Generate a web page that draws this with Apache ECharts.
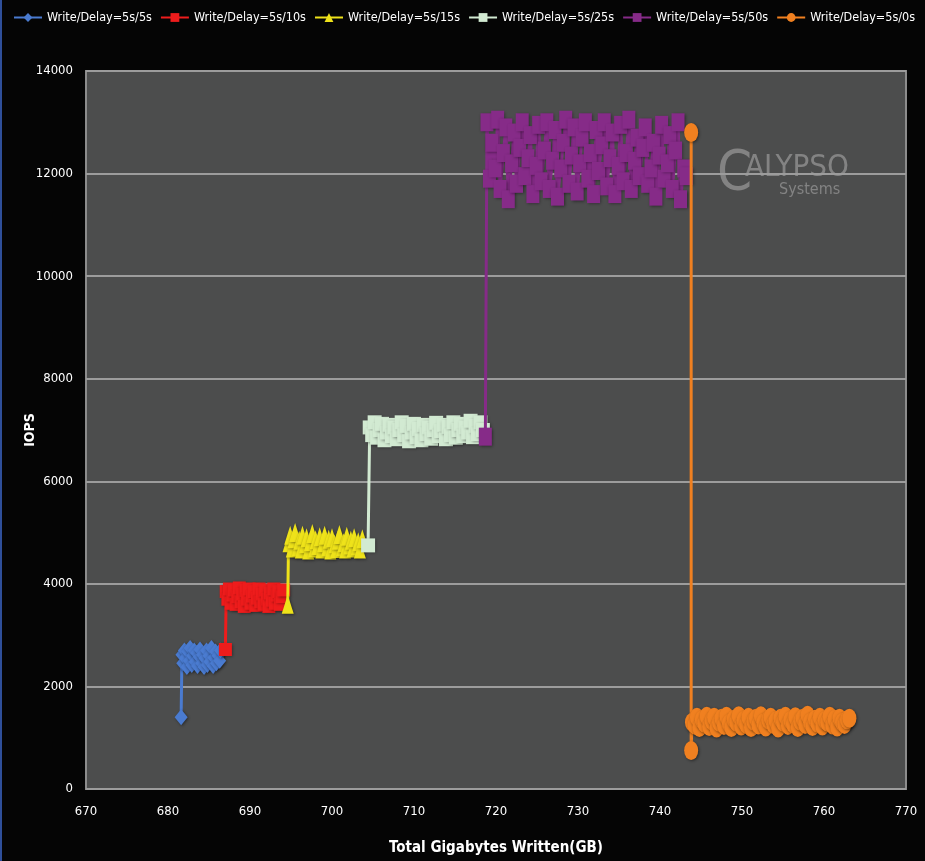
<!DOCTYPE html>
<html>
<head>
<meta charset="utf-8">
<script src="https://cdn.jsdelivr.net/npm/echarts@6/dist/echarts.min.js"></script>
<style>
html,body{margin:0;padding:0;background:#050505;}
#chart{width:925px;height:861px;}
</style>
</head>
<body>
<div id="chart"></div>
<script>
const seriesNames = ['Write/Delay=5s/5s','Write/Delay=5s/10s','Write/Delay=5s/15s','Write/Delay=5s/25s','Write/Delay=5s/50s','Write/Delay=5s/0s'];
const xTicks = [670,680,690,700,710,720,730,740,750,760,770];
const yTicks = [0,2000,4000,6000,8000,10000,12000,14000];

const blueX = [681.6,681.7,681.8,682.0,682.1,682.3,682.4,682.6,682.7,682.9,683.0,683.2,683.3,683.5,683.6,683.8,683.9,684.1,684.2,684.4,684.5,684.7,684.8,685.0,685.1,685.3,685.5,685.6,685.8,685.9,686.1,686.3,686.4];
const blueY = [1400,2620,2450,2700,2550,2380,2680,2500,2750,2420,2600,2700,2480,2650,2400,2580,2720,2450,2620,2380,2550,2700,2420,2600,2480,2750,2400,2560,2680,2450,2600,2500,2700];

const redX = [687.0,687.1,687.3,687.5,687.7,687.9,688.1,688.3,688.5,688.7,688.9,689.1,689.3,689.5,689.7,689.9,690.1,690.3,690.5,690.7,690.9,691.1,691.3,691.5,691.7,691.9,692.1,692.3,692.5,692.7,692.9,693.1,693.3,693.5,693.7,693.9,694.1];
const redY = [2720,3850,3700,3900,3620,3780,3880,3600,3750,3920,3650,3800,3560,3870,3700,3900,3620,3760,3850,3580,3720,3900,3650,3800,3600,3880,3700,3560,3820,3680,3900,3620,3780,3850,3600,3750,3880];

const yellowX = [694.6,694.7,694.9,695.1,695.3,695.5,695.8,696.0,696.2,696.4,696.7,696.9,697.1,697.3,697.6,697.8,698.0,698.2,698.5,698.7,698.9,699.1,699.4,699.6,699.8,700.0,700.3,700.5,700.7,700.9,701.2,701.4,701.6,701.8,702.1,702.3,702.5,702.7,703.0,703.2,703.4,703.7];
const yellowY = [3600,4800,4950,4700,4880,5000,4720,4850,4680,4950,4780,4900,4660,4820,4980,4700,4860,4750,4920,4680,4800,4950,4720,4870,4660,4900,4780,4690,4850,4960,4720,4800,4680,4930,4760,4850,4700,4900,4740,4820,4680,4880];

const greenX = [704.4,704.6,704.9,705.2,705.5,705.8,706.1,706.4,706.7,707.0,707.3,707.6,707.9,708.2,708.5,708.8,709.1,709.4,709.7,710.0,710.3,710.6,710.9,711.2,711.5,711.8,712.1,712.4,712.7,713.0,713.3,713.6,713.9,714.2,714.5,714.8,715.1,715.4,715.7,716.0,716.3,716.6,716.9,717.2,717.5,717.8,718.1,718.4];
const greenY = [4750,7050,6900,7150,6850,7000,7120,6800,6950,7100,6880,7050,6820,7000,7150,6900,7080,6780,6950,7120,6860,7020,6800,7100,6920,7050,6830,7000,7140,6880,6980,7100,6820,7060,6900,7150,6850,7000,7120,6880,7050,6950,7180,6860,7080,6920,7150,7000];

const purpleX = [718.7,718.9,719.2,719.5,719.9,720.2,720.5,720.9,721.2,721.5,721.9,722.2,722.5,722.9,723.2,723.5,723.9,724.2,724.5,724.9,725.2,725.5,725.9,726.2,726.5,726.9,727.2,727.5,727.9,728.2,728.5,728.9,729.2,729.5,729.9,730.2,730.5,730.9,731.2,731.5,731.9,732.2,732.5,732.9,733.2,733.5,733.9,734.2,734.5,734.9,735.2,735.5,735.9,736.2,736.5,736.9,737.2,737.5,737.9,738.2,738.5,738.9,739.2,739.5,739.9,740.2,740.5,740.9,741.2,741.5,741.9,742.2,742.5,742.9,743.2];
const purpleY = [6870,13000,11900,12600,12100,13050,11700,12400,12900,11500,12200,12800,11800,12500,13000,11950,12300,12750,11600,12150,12950,11850,12450,13000,11700,12250,12850,11550,12100,12600,13050,11800,12350,12900,11650,12200,12700,13000,11900,12400,11600,12850,12050,12550,13000,11750,12300,12800,11600,12150,12950,11850,12400,13050,11700,12250,12700,11950,12500,12900,11800,12100,12600,11550,12350,12950,11900,12200,12750,11700,12450,13000,11500,12100,11950];

const orangeX = [743.8,743.8,743.9,744.2,744.5,744.8,745.1,745.4,745.7,746.0,746.3,746.6,746.9,747.2,747.5,747.8,748.1,748.4,748.7,749.0,749.3,749.6,749.9,750.2,750.5,750.8,751.1,751.4,751.7,752.0,752.3,752.6,752.9,753.2,753.5,753.8,754.1,754.4,754.7,755.0,755.3,755.6,755.9,756.2,756.5,756.8,757.1,757.4,757.7,758.0,758.3,758.6,758.9,759.2,759.5,759.8,760.1,760.4,760.7,761.0,761.3,761.6,761.9,762.2,762.5,762.8,763.1];
const orangeY = [12800,750,1300,1250,1400,1200,1350,1280,1420,1220,1330,1400,1190,1300,1380,1240,1420,1280,1200,1360,1300,1430,1230,1340,1260,1400,1200,1320,1380,1250,1430,1290,1210,1350,1400,1260,1330,1190,1380,1300,1420,1240,1340,1270,1410,1200,1320,1380,1260,1440,1300,1220,1360,1280,1400,1230,1340,1300,1420,1250,1360,1210,1380,1300,1260,1350,1380];

function zip(xs, ys){ const n=Math.min(xs.length, ys.length); const out=[]; for(let i=0;i<n;i++) out.push([xs[i], ys[i]]); return out; }

const FONT = "'Liberation Sans Narrow','DejaVu Sans Condensed','Liberation Sans',sans-serif";

const styles = [
  {color:'#4a7bd0', symbol:'diamond', size:[13,16], data:zip(blueX,blueY)},
  {color:'#ee1c1c', symbol:'rect', size:[13,13], data:zip(redX,redY)},
  {color:'#eee21a', symbol:'triangle', size:[12,19], data:zip(yellowX,yellowY)},
  {color:'#d2ead2', symbol:'rect', size:[14,14], data:zip(greenX,greenY)},
  {color:'#862b88', symbol:'rect', size:[13,18], data:zip(purpleX,purpleY)},
  {color:'#f08020', symbol:'circle', size:[14,19], data:zip(orangeX,orangeY)}
];

const chart = echarts.init(document.getElementById('chart'));
chart.setOption({
  backgroundColor:'#050505',
  animation:false,
  textStyle:{fontFamily:FONT},
  legend:{
    left:13, top:11, width:912, itemGap:8, itemWidth:28, itemHeight:11, padding:0,
    textStyle:{color:'#ffffff', fontSize:12.5, fontFamily:FONT},
    data:seriesNames
  },
  grid:{left:86, right:19, top:71, bottom:71, show:true, backgroundColor:'#4c4d4d', borderColor:'#8c8c8c', borderWidth:2},
  xAxis:{
    type:'value', min:xTicks[0], max:xTicks[xTicks.length-1], interval:10,
    name:'Total Gigabytes Written(GB)', nameLocation:'middle', nameGap:52, nameMoveOverlap:false,
    nameTextStyle:{color:'#ffffff', fontSize:15, fontWeight:'bold', fontFamily:FONT},
    axisLine:{show:false}, axisTick:{show:false}, splitLine:{show:false},
    axisLabel:{color:'#ffffff', fontSize:13, margin:16, fontFamily:FONT}
  },
  yAxis:{
    type:'value', min:yTicks[0], max:yTicks[yTicks.length-1], interval:2000,
    name:'IOPS', nameLocation:'middle', nameGap:49, nameRotate:90, nameMoveOverlap:false,
    nameTextStyle:{color:'#ffffff', fontSize:14, fontWeight:'bold', fontFamily:FONT},
    axisLine:{show:false}, axisTick:{show:false},
    splitLine:{show:true, lineStyle:{color:'#9c9c9c', width:2}},
    axisLabel:{color:'#ffffff', fontSize:13, margin:13, fontFamily:FONT, formatter:function(v){return String(v);}}
  },
  graphic:[
    {type:'rect', left:0, top:0, shape:{width:2, height:861}, style:{fill:'#2f4f9a'}},
    {type:'text', left:717, top:146, style:{text:'C', fill:'rgba(150,150,150,0.75)', font:"56px "+FONT}},
    {type:'text', left:745, top:152, style:{text:'ALYPSO', fill:'rgba(150,150,150,0.75)', font:"31px "+FONT}},
    {type:'text', left:779, top:182, style:{text:'Systems', fill:'rgba(150,150,150,0.75)', font:"16px "+FONT}}
  ],
  series: styles.map((s,i)=>({
    name:seriesNames[i], type:'line', data:s.data,
    symbol:s.symbol, symbolSize:s.size, showSymbol:true,
    lineStyle:{color:s.color, width:3},
    itemStyle:{color:s.color, shadowBlur:3, shadowColor:'rgba(0,0,0,0.45)', shadowOffsetX:1, shadowOffsetY:1},
    z:2+i
  }))
});
</script>
</body>
</html>
